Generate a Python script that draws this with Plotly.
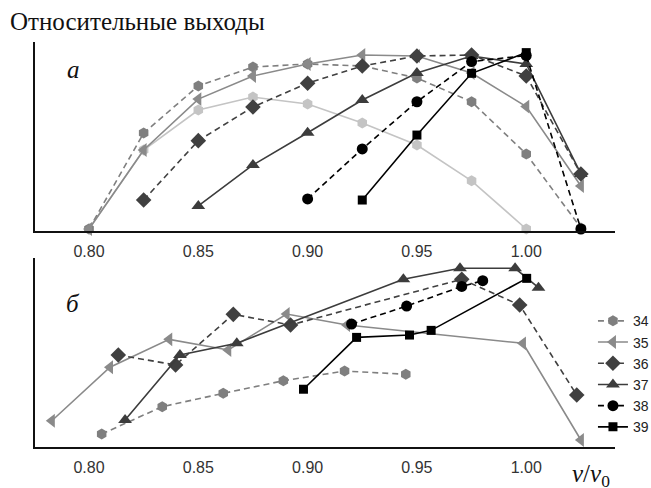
import plotly.graph_objects as go
from plotly.subplots import make_subplots

# ---------------- data: panel a (top) ----------------
a_v10 = [0.80, 0.825, 0.85, 0.875, 0.90, 0.925, 0.95, 0.975, 1.00, 1.025]
a_light_v = [0.80, 0.825, 0.85, 0.875, 0.90, 0.925, 0.95, 0.975, 1.00]
a_light_y = [0.011, 0.45, 0.672, 0.744, 0.706, 0.60, 0.478, 0.279, 0.011]
a34_y = [0.011, 0.544, 0.806, 0.911, 0.928, 0.917, 0.850, 0.718, 0.428, 0.017]
a35_y = [0.011, 0.450, 0.733, 0.861, 0.928, 0.978, 0.972, 0.878, 0.691, 0.25]
a36_v = [0.825, 0.85, 0.875, 0.90, 0.925, 0.95, 0.975, 1.00, 1.025]
a36_y = [0.172, 0.502, 0.689, 0.821, 0.917, 0.972, 0.978, 0.861, 0.317]
a37_v = [0.85, 0.875, 0.90, 0.925, 0.95, 0.975, 1.00, 1.025]
a37_y = [0.139, 0.367, 0.546, 0.728, 0.878, 0.972, 0.928, 0.317]
a38_v = [0.90, 0.925, 0.95, 0.975, 1.00, 1.025]
a38_y = [0.178, 0.456, 0.718, 0.941, 0.975, 0.011]
a39_v = [0.925, 0.95, 0.975, 1.00]
a39_y = [0.172, 0.533, 0.876, 0.991]

# ---------------- data: panel б (bottom) ----------------
b34_v = [0.8058, 0.8335, 0.8614, 0.8889, 0.9169, 0.9449]
b34_y = [0.072, 0.224, 0.298, 0.368, 0.422, 0.404]
b35_v = [0.7830, 0.8096, 0.8367, 0.8637, 0.8904, 0.9180, 0.9985, 1.025]
b35_y = [0.146, 0.443, 0.598, 0.539, 0.739, 0.678, 0.576, 0.039]
b36_v = [0.8134, 0.8396, 0.8660, 0.8922, 0.9705, 0.9970, 1.0231]
b36_y = [0.511, 0.456, 0.737, 0.678, 0.932, 0.789, 0.289]
b37_v = [0.8165, 0.8416, 0.8676, 0.9438, 0.9697, 0.9949, 1.0056]
b37_y = [0.150, 0.511, 0.576, 0.932, 0.993, 0.993, 0.885]
b38_v = [0.9201, 0.9453, 0.9705, 0.9801]
b38_y = [0.683, 0.783, 0.892, 0.924]
b39_v = [0.8981, 0.9224, 0.9466, 0.9565, 1.0002]
b39_y = [0.321, 0.609, 0.622, 0.648, 0.937]

tick_vals = [0.80, 0.85, 0.90, 0.95, 1.00]
tick_text = ["0.80", "0.85", "0.90", "0.95", "1.00"]

# ---------------- styles ----------------
DASH = "6px,4px"
styles = {
    "34": dict(color="#7f7f7f", symbol="hexagon", size=11, dash=DASH),
    "35": dict(color="#8a8a8a", symbol="triangle-left", size=12, dash="solid"),
    "36": dict(color="#404040", symbol="diamond", size=12, dash=DASH),
    "37": dict(color="#3c3c3c", symbol="triangle-up", size=12, dash="solid"),
    "38": dict(color="#000000", symbol="circle", size=11, dash=DASH),
    "39": dict(color="#000000", symbol="square", size=9, dash="solid"),
}

fig = make_subplots(rows=2, cols=1, vertical_spacing=0.0667)


def add(name, xs, ys, row, legend, rank):
    s = styles[name]
    fig.add_trace(go.Scatter(
        x=xs, y=ys, mode="lines+markers", name=name,
        line=dict(color=s["color"], width=1.6, dash=s["dash"]),
        marker=dict(color=s["color"], symbol=s["symbol"], size=s["size"],
                    line=dict(width=0)),
        cliponaxis=False, showlegend=legend, legendrank=rank,
    ), row=row, col=1)


# panel a
fig.add_trace(go.Scatter(
    x=a_light_v, y=a_light_y, mode="lines+markers", name="light",
    line=dict(color="#c4c4c4", width=1.6),
    marker=dict(color="#c4c4c4", symbol="hexagon", size=11),
    cliponaxis=False, showlegend=False,
), row=1, col=1)
add("34", a_v10, a34_y, 1, True, 1)
add("35", a_v10, a35_y, 1, True, 2)
add("37", a37_v, a37_y, 1, True, 4)
add("36", a36_v, a36_y, 1, True, 3)
add("38", a38_v, a38_y, 1, True, 5)
add("39", a39_v, a39_y, 1, True, 6)

# panel b
add("34", b34_v, b34_y, 2, False, 1)
add("35", b35_v, b35_y, 2, False, 2)
add("36", b36_v, b36_y, 2, False, 3)
add("37", b37_v, b37_y, 2, False, 4)
add("38", b38_v, b38_y, 2, False, 5)
add("39", b39_v, b39_y, 2, False, 6)

xr = [0.7753, 1.0406]
for r in (1, 2):
    fig.update_xaxes(range=xr, tickvals=tick_vals, ticktext=tick_text,
                     showline=True, linecolor="#111", linewidth=1.5,
                     showgrid=False, zeroline=False, ticks="",
                     ticklabelstandoff=5,
                     tickfont=dict(family="Liberation Sans, Arial", size=16, color="#333"),
                     row=r, col=1)
    fig.update_yaxes(range=[0, 1.05], showline=True, linecolor="#111", linewidth=1.5,
                     showgrid=False, zeroline=False, showticklabels=False, ticks="",
                     row=r, col=1)

fig.update_layout(
    width=651, height=488,
    margin=dict(l=35, r=36, t=42, b=41, autoexpand=False),
    paper_bgcolor="white", plot_bgcolor="white",
    showlegend=True,
    legend=dict(x=0.962, y=0.35, xanchor="left", yanchor="top",
                font=dict(family="Liberation Sans, Arial", size=14, color="#222"),
                bgcolor="rgba(0,0,0,0)", tracegroupgap=0, itemwidth=30),
    annotations=[
        dict(text="Относительные выходы", xref="paper", yref="paper",
             x=-0.046, y=1.05, xanchor="left", yanchor="middle",
             showarrow=False, font=dict(family="Liberation Serif, Times New Roman", size=25, color="#111")),
        dict(text="<i>a</i>", xref="paper", yref="paper", x=0.067, y=0.931,
             xanchor="center", yanchor="middle",
             showarrow=False, font=dict(family="Liberation Serif", size=25, color="#111")),
        dict(text="<i>б</i>", xref="paper", yref="paper", x=0.065, y=0.355,
             xanchor="center", yanchor="middle",
             showarrow=False, font=dict(family="Liberation Serif", size=25, color="#111")),
        dict(text="<i>v</i>/<i>v</i><sub>0</sub>", xref="paper", yref="paper", x=0.9586, y=-0.07,
             xanchor="center", yanchor="middle",
             showarrow=False, font=dict(family="Liberation Serif", size=25, color="#111")),
    ],
)

fig.write_html("out.html", config={"displayModeBar": False},
               post_script="document.body.style.margin='0px';")
